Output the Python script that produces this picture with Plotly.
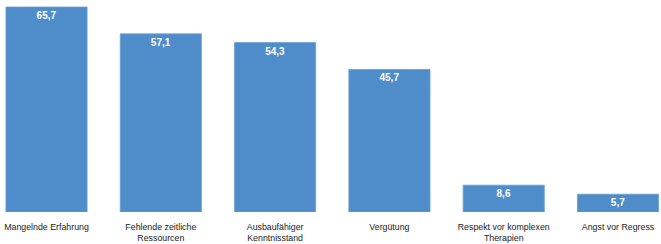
import plotly.graph_objects as go

categories = ["Mangelnde Erfahrung", "Fehlende zeitliche<br>Ressourcen", "Ausbaufähiger<br>Kenntnisstand",
              "Vergütung", "Respekt vor komplexen<br>Therapien", "Angst vor Regress"]
values = [65.7, 57.1, 54.3, 45.7, 8.6, 5.7]
labels = [f"{v:.1f}".replace(".", ",") for v in values]

fig = go.Figure(go.Bar(
    x=list(range(len(categories))), y=values, width=0.71,
    text=labels, textposition="inside", insidetextanchor="end",
    textfont=dict(family="Liberation Sans", size=10, color="white", weight="bold"),
    marker=dict(color="#4f8dca", line=dict(color="#6a9fd3", width=0.8)),
    cliponaxis=False,
))
fig.update_layout(
    width=661, height=244, margin=dict(l=0, r=0, t=0, b=32),
    paper_bgcolor="white", plot_bgcolor="white", showlegend=False,
    font=dict(family="Liberation Sans", size=9, color="#222222"),
    uniformtext=dict(minsize=10, mode="show"),
)
fig.update_xaxes(range=[-0.407, 5.376], tickvals=list(range(len(categories))), ticktext=categories,
                 showgrid=False, zeroline=False, showline=False, ticks="", automargin=False,
                 ticklabelstandoff=8, tickfont=dict(size=8.8, color="#222222"))
fig.update_yaxes(range=[0, 67.95], visible=False, automargin=False)
fig.write_html("out.html")
